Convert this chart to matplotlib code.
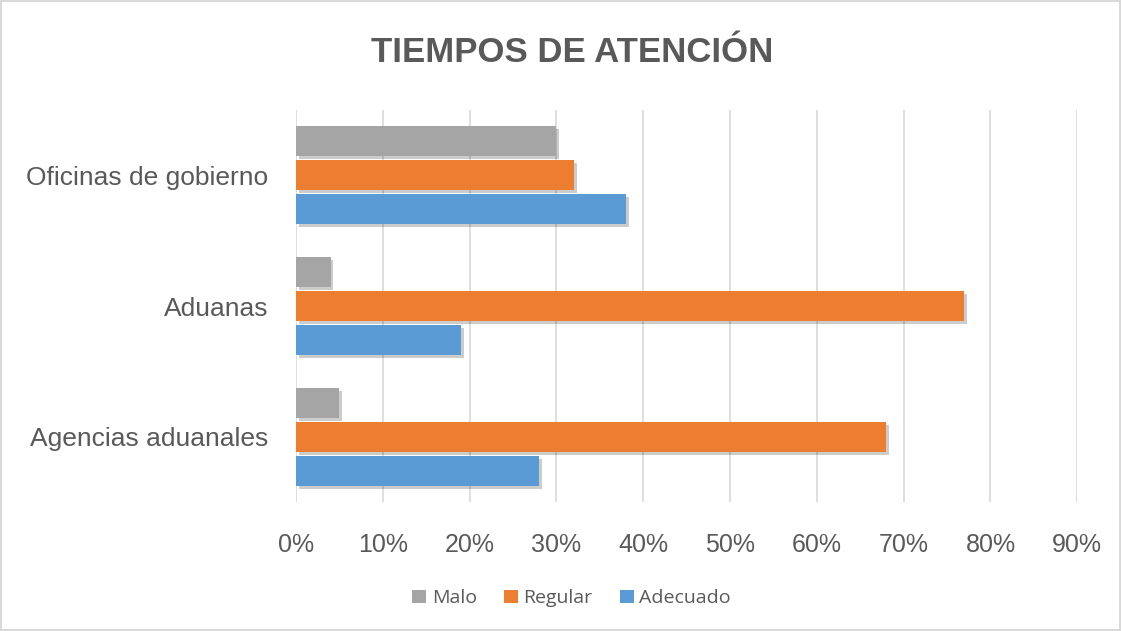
import numpy as np
from matplotlib import pyplot as plt
from matplotlib import patheffects as pe
from matplotlib.patches import Patch

categories = ['Agencias aduanales', 'Aduanas', 'Oficinas de gobierno']
series_names = ['Malo', 'Regular', 'Adecuado']
malo = [5, 4, 30]
regular = [68, 77, 32]
adecuado = [28, 19, 38]
x_ticks = [0, 10, 20, 30, 40, 50, 60, 70, 80, 90]

colors = {'Malo': '#A5A5A5', 'Regular': '#ED7D31', 'Adecuado': '#5B9BD5'}
text_color = '#595959'
font = 'Liberation Sans'

fig = plt.figure(figsize=(11.21, 6.31), dpi=100)
fig.patch.set_edgecolor('#D9D9D9')
fig.patch.set_linewidth(1.5)
ax = fig.add_axes([0.264, 0.204, 0.697, 0.622])

y = np.arange(len(categories))
h = 0.23
step = 0.26
shadow = [pe.SimplePatchShadow(offset=(2, -2), shadow_rgbFace='#000000', alpha=0.2), pe.Normal()]

values = {'Malo': malo, 'Regular': regular, 'Adecuado': adecuado}
offsets = {'Malo': step, 'Regular': 0, 'Adecuado': -step}
for name in series_names:
    bars = ax.barh(y + offsets[name], values[name], height=h, color=colors[name],
                   label=name, zorder=3)
    for b in bars:
        b.set_path_effects(shadow)

ax.set_xlim(0, 90)
ax.set_ylim(-0.5, 2.5)
ax.set_xticks(x_ticks)
ax.set_xticklabels([f'{v}%' for v in x_ticks])
ax.set_yticks(y)
ax.set_yticklabels(categories)
ax.grid(axis='x', color='#D9D9D9', linewidth=1.2, zorder=0)
for s in ax.spines.values():
    s.set_visible(False)
ax.tick_params(axis='both', length=0, colors=text_color)
ax.tick_params(axis='x', pad=22)
ax.tick_params(axis='y', pad=20)
for lab in ax.get_xticklabels():
    lab.set_family(font)
    lab.set_fontsize(18)
for lab in ax.get_yticklabels():
    lab.set_family(font)
    lab.set_fontsize(19)

fig.text(0.51, 0.917, 'TIEMPOS DE ATENCIÓN', ha='center', va='center',
         fontsize=25, fontweight='bold', color=text_color, family=font)

handles = [Patch(facecolor=colors[n]) for n in series_names]
leg = fig.legend(handles=handles, labels=series_names, loc='center', ncol=3,
                 bbox_to_anchor=(0.51, 0.052), frameon=False,
                 handlelength=0.7, handleheight=0.7, handletextpad=0.3,
                 columnspacing=1.4, prop={'family': 'Open Sans', 'size': 14})
for t in leg.get_texts():
    t.set_color(text_color)

fig.savefig('out.png', dpi=100, edgecolor=fig.get_edgecolor())
